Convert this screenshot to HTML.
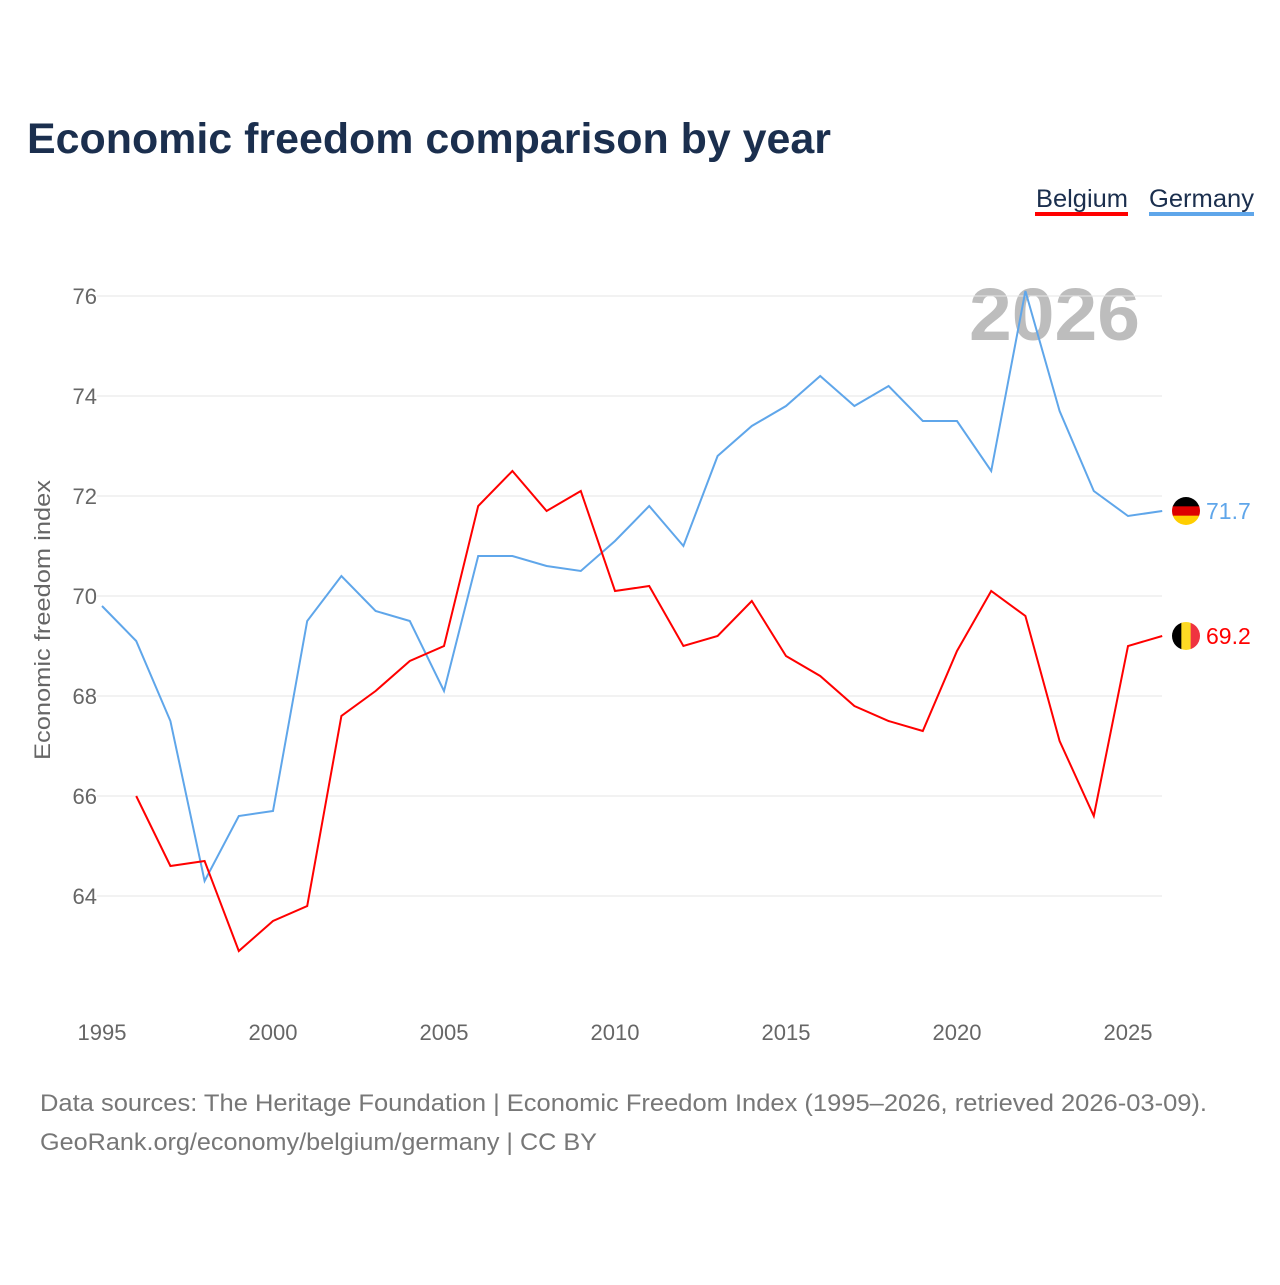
<!DOCTYPE html>
<html><head><meta charset="utf-8"><style>
body{margin:0;background:#fff;font-family:"Liberation Sans",sans-serif}
</style></head><body>
<svg id="chart" width="1280" height="1280" xmlns="http://www.w3.org/2000/svg" font-family="Liberation Sans, sans-serif">
<rect width="1280" height="1280" fill="#fff"/>
<text x="27" y="153" font-size="43" font-weight="bold" fill="#1b2f4e" textLength="804" lengthAdjust="spacingAndGlyphs">Economic freedom comparison by year</text>
<g><text x="1036" y="207" font-size="25" fill="#1b2f4e" textLength="92" lengthAdjust="spacingAndGlyphs">Belgium</text><rect x="1035" y="212" width="93" height="4" fill="#ff0000"/></g>
<g><text x="1149" y="207" font-size="25" fill="#1b2f4e" textLength="105" lengthAdjust="spacingAndGlyphs">Germany</text><rect x="1149" y="212" width="105" height="4" fill="#5fa6ea"/></g>
<text x="1140" y="340" text-anchor="end" font-size="74" font-weight="bold" fill="#bdbdbd" textLength="171" lengthAdjust="spacingAndGlyphs">2026</text>
<text transform="translate(50,620) rotate(-90)" text-anchor="middle" font-size="22" fill="#666" textLength="280" lengthAdjust="spacingAndGlyphs">Economic freedom index</text>
<g id="grid"></g><g id="series"></g>
<text x="40" y="1111" font-size="24" fill="#777" textLength="1167" lengthAdjust="spacingAndGlyphs">Data sources: The Heritage Foundation | Economic Freedom Index (1995–2026, retrieved 2026-03-09).</text>
<text x="40" y="1150" font-size="24" fill="#777" textLength="557" lengthAdjust="spacingAndGlyphs">GeoRank.org/economy/belgium/germany | CC BY</text>
</svg>
<script>
const years=[1995,1996,1997,1998,1999,2000,2001,2002,2003,2004,2005,2006,2007,2008,2009,2010,2011,2012,2013,2014,2015,2016,2017,2018,2019,2020,2021,2022,2023,2024,2025,2026];
const germany=[69.8,69.1,67.5,64.3,65.6,65.7,69.5,70.4,69.7,69.5,68.1,70.8,70.8,70.6,70.5,71.1,71.8,71.0,72.8,73.4,73.8,74.4,73.8,74.2,73.5,73.5,72.5,76.1,73.7,72.1,71.6,71.7];
const belgium=[null,66.0,64.6,64.7,62.9,63.5,63.8,67.6,68.1,68.7,69.0,71.8,72.5,71.7,72.1,70.1,70.2,69.0,69.2,69.9,68.8,68.4,67.8,67.5,67.3,68.9,70.1,69.6,67.1,65.6,69.0,69.2];
const yTicks=[64,66,68,70,72,74,76];
const xTicks=[1995,2000,2005,2010,2015,2020,2025];
const NS="http://www.w3.org/2000/svg";
const X=y=>102+(y-1995)*34.2, Y=v=>296+(76-v)*50;
function mk(t,a,p){const e=document.createElementNS(NS,t);for(const k in a)e.setAttribute(k,a[k]);p.appendChild(e);return e;}
const g=document.getElementById('grid'),s=document.getElementById('series');
yTicks.forEach(v=>{
 const l=mk('line',{x1:97,x2:1162,y1:Y(v),y2:Y(v),stroke:'#e6e6e6','stroke-width':1},g);
 
 
 const t=mk('text',{x:97,y:Y(v)+8,'text-anchor':'end','font-size':22,fill:'#666'},g);t.textContent=v;
 
 
});
xTicks.forEach(v=>{
 const t=mk('text',{x:X(v),y:1040,'text-anchor':'middle','font-size':22,fill:'#666'},g);t.textContent=v;
 
 
});
function line(data,color,name){
 let d='';data.forEach((v,i)=>{if(v==null)return;d+=(d?'L':'M')+X(years[i])+','+Y(v);});
 const p=mk('path',{d:d,fill:'none',stroke:color,'stroke-width':2},s);
 
 
}
line(germany,'#5fa6ea','germany-line');line(belgium,'#ff0000','belgium-line');
function flag(v,cols,vertical,color,name){
 const cx=1186,cy=Y(v),r=14,id='c'+name;
 const cp=mk('clipPath',{id:id},s);mk('circle',{cx:cx,cy:cy,r:r},cp);
 const gg=mk('g',{'clip-path':'url(#'+id+')'},s);
 
 
 cols.forEach((c,i)=>{ if(vertical)mk('rect',{x:cx-r+i*2*r/3,y:cy-r,width:2*r/3+0.5,height:2*r,fill:c},gg); else mk('rect',{x:cx-r,y:cy-r+i*2*r/3,width:2*r,height:2*r/3+0.5,fill:c},gg);});
 const t=mk('text',{x:1206,y:cy+8,'font-size':23,fill:color},s);t.textContent=v.toFixed(1);
 
 
}
flag(germany[germany.length-1],['#000','#dd0000','#ffce00'],false,'#5fa6ea','germany');
flag(belgium[belgium.length-1],['#000','#fdda24','#ef3340'],true,'#ff0000','belgium');
</script>
</body></html>
